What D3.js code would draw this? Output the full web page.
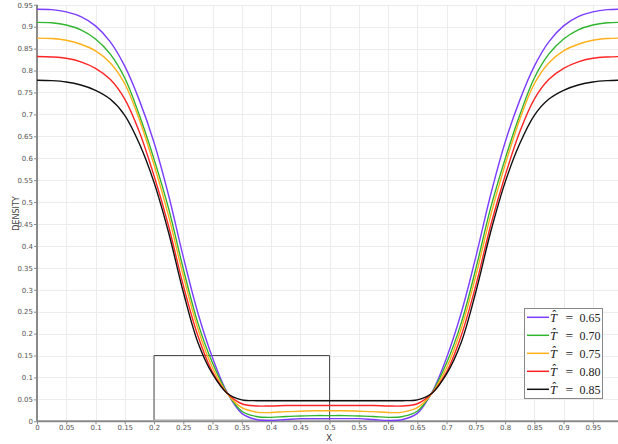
<!DOCTYPE html>
<html><head><meta charset="utf-8">
<script src="https://cdn.jsdelivr.net/npm/d3@7"></script>
<style>html,body{margin:0;padding:0;background:#fff;}svg{display:block;}</style>
</head><body><svg id="c" width="618" height="444"></svg>
<script>
const xValues = [0,0.025,0.05,0.075,0.1,0.125,0.15,0.175,0.2,0.225,0.25,0.275,0.3,0.325,0.35,0.375,0.4,0.425,0.45,0.475,0.5,
  0.525,0.55,0.575,0.6,0.625,0.65,0.675,0.7,0.725,0.75,0.775,0.8,0.825,0.85,0.875,0.9,0.925,0.95,0.975,1.0];
const density065 = [0.940,0.939,0.934,0.923,0.902,0.866,0.810,0.732,0.636,0.515,0.375,0.247,0.145,0.066,0.018,0.004,0.002,0.004,0.006,0.006,0.006,
  0.006,0.006,0.004,0.002,0.004,0.018,0.066,0.145,0.247,0.375,0.515,0.636,0.732,0.810,0.866,0.902,0.923,0.934,0.939,0.940];
const density070 = [0.910,0.909,0.904,0.893,0.872,0.838,0.783,0.698,0.598,0.485,0.348,0.224,0.133,0.065,0.023,0.011,0.009,0.011,0.012,0.013,0.013,
  0.013,0.012,0.011,0.009,0.011,0.023,0.065,0.133,0.224,0.348,0.485,0.598,0.698,0.783,0.838,0.872,0.893,0.904,0.909,0.910];
const density075 = [0.874,0.873,0.869,0.860,0.845,0.818,0.770,0.688,0.585,0.468,0.332,0.211,0.122,0.064,0.031,0.021,0.020,0.022,0.023,0.024,0.024,
  0.024,0.023,0.022,0.020,0.021,0.031,0.064,0.122,0.211,0.332,0.468,0.585,0.688,0.770,0.818,0.845,0.860,0.869,0.873,0.874];
const density080 = [0.832,0.831,0.828,0.820,0.805,0.780,0.735,0.660,0.560,0.445,0.310,0.195,0.112,0.064,0.040,0.035,0.035,0.036,0.036,0.036,0.036,
  0.036,0.036,0.036,0.035,0.035,0.040,0.064,0.112,0.195,0.310,0.445,0.560,0.660,0.735,0.780,0.805,0.820,0.828,0.831,0.832];
const density085 = [0.778,0.777,0.774,0.767,0.755,0.735,0.698,0.633,0.545,0.430,0.295,0.180,0.108,0.064,0.049,0.047,0.047,0.047,0.047,0.047,0.047,
  0.047,0.047,0.047,0.047,0.047,0.049,0.064,0.108,0.180,0.295,0.430,0.545,0.633,0.698,0.735,0.755,0.767,0.774,0.777,0.778];
const seriesLabels = ["0.65","0.70","0.75","0.80","0.85"];
const seriesColors = ["#7b3dff","#2fb52f","#ffb11b","#ff2424","#111111"];
const xTicks = [0,0.05,0.1,0.15,0.2,0.25,0.3,0.35,0.4,0.45,0.5,0.55,0.6,0.65,0.7,0.75,0.8,0.85,0.9,0.95];
const xTickLabels = ["0","0.05","0.1","0.15","0.2","0.25","0.3","0.35","0.4","0.45","0.5","0.55","0.6","0.65","0.7","0.75","0.8","0.85","0.9","0.95"];
const yTicks = [0,0.05,0.1,0.15,0.2,0.25,0.3,0.35,0.4,0.45,0.5,0.55,0.6,0.65,0.7,0.75,0.8,0.85,0.9,0.95];
const yTickLabels = ["0","0.05","0.1","0.15","0.2","0.25","0.3","0.35","0.4","0.45","0.5","0.55","0.6","0.65","0.7","0.75","0.8","0.85","0.9","0.95"];
const zoomBox = {x0:0.2, x1:0.5, y0:0.0025, y1:0.15};

const series = [density065,density070,density075,density080,density085];
const svg = d3.select("#c");
const mLeft = 37, mRight = 618, mTop = 4.8, mBottom = 421.3;
const x = d3.scaleLinear().domain([0,0.993]).range([mLeft,mRight]);
const y = d3.scaleLinear().domain([0,0.95]).range([mBottom,mTop]);

svg.append("defs").append("clipPath").attr("id","clip").append("rect")
  .attr("x",mLeft).attr("y",0).attr("width",mRight-mLeft).attr("height",mBottom+1);

// grid
const grid = svg.append("g").attr("stroke","#ececec").attr("stroke-width",1);
grid.selectAll("line.v").data(xTicks.slice(1)).join("line")
  .attr("x1",d=>Math.round(x(d))+0.5).attr("x2",d=>Math.round(x(d))+0.5).attr("y1",mTop).attr("y2",mBottom);
grid.selectAll("line.h").data(yTicks.slice(1)).join("line")
  .attr("y1",d=>Math.round(y(d))+0.5).attr("y2",d=>Math.round(y(d))+0.5).attr("x1",mLeft).attr("x2",mRight);

// axes
const fmtX = d => xTickLabels[xTicks.indexOf(d)];
const fmtY = d => yTickLabels[yTicks.indexOf(d)];
const gx = svg.append("g").attr("transform",`translate(0,${mBottom})`)
  .call(d3.axisBottom(x).tickValues(xTicks).tickFormat(fmtX).tickSize(3).tickPadding(1));
const gy = svg.append("g").attr("transform",`translate(${mLeft},0)`)
  .call(d3.axisLeft(y).tickValues(yTicks).tickFormat(fmtY).tickSize(3).tickPadding(1));
[gx,gy].forEach(g=>{
  g.select(".domain").attr("stroke","#8a8a8a").attr("stroke-width",2);
  g.selectAll(".tick line").attr("stroke","#8a8a8a");
  g.selectAll(".tick text").attr("fill","#555").attr("font-family","DejaVu Sans").attr("font-size",7);
});
gx.select(".domain").attr("d",`M${mLeft},0H${mRight}`);
gy.select(".domain").attr("d",`M0,${mBottom}V${mTop}`);

// zoom box
svg.append("path")
  .attr("d",`M${x(zoomBox.x0)},${y(zoomBox.y0)}V${y(zoomBox.y1)}H${x(zoomBox.x1)}V${y(zoomBox.y0)}`)
  .attr("fill","none").attr("stroke","#4a4a4a").attr("stroke-width",1);
svg.append("line").attr("x1",x(zoomBox.x0)).attr("x2",x(zoomBox.x1))
  .attr("y1",y(zoomBox.y0)).attr("y2",y(zoomBox.y0)).attr("stroke","#aaa").attr("stroke-width",1.5);

// lines
const line = d3.line().x((d,i)=>x(xValues[i])).y(d=>y(d)).curve(d3.curveCatmullRom.alpha(0.5));
svg.append("g").attr("clip-path","url(#clip)").selectAll("path").data(series).join("path")
  .attr("d",line).attr("fill","none").attr("stroke",(d,i)=>seriesColors[i]).attr("stroke-width",1.4);

// axis titles
svg.append("text").attr("x",329).attr("y",440.5).attr("text-anchor","middle")
  .attr("font-family","DejaVu Sans").attr("font-size",9).attr("fill","#444").text("X");
svg.append("text").attr("transform","translate(18.5,213.5) rotate(-90)").attr("text-anchor","middle")
  .attr("font-family","DejaVu Sans").attr("font-size",8).attr("fill","#444").text("DENSITY");

// legend
const lg = svg.append("g");
lg.append("rect").attr("x",524.5).attr("y",308.5).attr("width",78).attr("height",90)
  .attr("fill","#fff").attr("stroke","#888").attr("stroke-width",1);
seriesLabels.forEach((lab,i)=>{
  const ly = 317.3 + i*18;
  lg.append("line").attr("x1",527).attr("x2",549).attr("y1",ly).attr("y2",ly)
    .attr("stroke",seriesColors[i]).attr("stroke-width",1.5);
  const t = lg.append("text").attr("font-family","Liberation Serif").attr("fill","#222").attr("font-size",12.5)
    .attr("y",ly+4.2);
  t.append("tspan").attr("x",550).attr("font-style","italic").text("T\u0302");
  t.append("tspan").attr("x",565.5).attr("font-size",13.5).text("=");
  t.append("tspan").attr("x",579.5).attr("font-size",12).text(lab);
});
</script></body></html>
